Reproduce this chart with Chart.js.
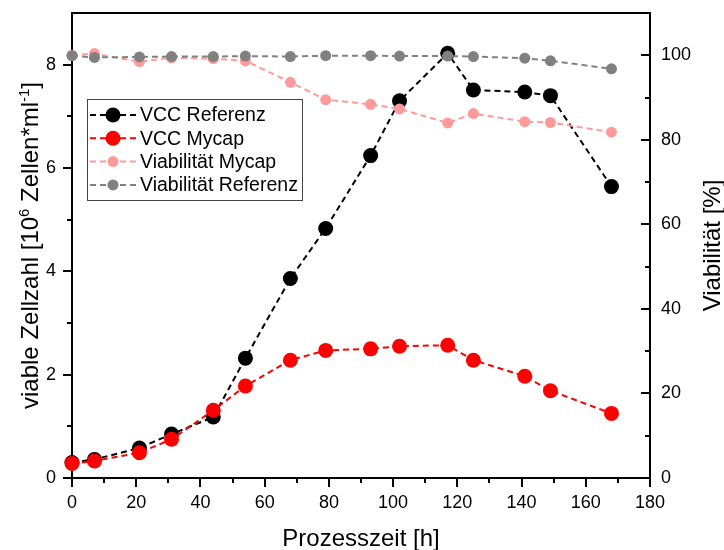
<!DOCTYPE html>
<html>
<head>
<meta charset="utf-8">
<script src="https://cdn.jsdelivr.net/npm/chart.js@4/dist/chart.umd.min.js"></script>
<style>
  html, body { margin: 0; padding: 0; background: #fff; }
  canvas { display: block; }
</style>
</head>
<body>
<canvas id="chart" width="724" height="550"></canvas>
<script>
// Prozesszeit in h
const zeit = [0, 7, 21, 31, 44, 54, 68, 79, 93, 102, 117, 125, 141, 149, 168]
// lebende Zellen, 10^6 Zellen/ml
const vccReferenz = [0.30, 0.36, 0.58, 0.85, 1.18, 2.32, 3.86, 4.83, 6.24, 7.30, 8.22, 7.51, 7.47, 7.40, 5.64]
const vccMycap = [0.28, 0.33, 0.49, 0.75, 1.31, 1.78, 2.28, 2.47, 2.50, 2.55, 2.57, 2.28, 1.97, 1.69, 1.25]
// Viabilität in %
const viabMycap = [100.0, 100.4, 98.5, 99.4, 99.2, 98.7, 93.6, 89.5, 88.4, 87.3, 84.0, 86.2, 84.3, 84.1, 81.8]
const viabReferenz = [99.9, 99.5, 99.6, 99.7, 99.7, 99.8, 99.7, 99.9, 99.9, 99.8, 99.8, 99.7, 99.3, 98.7, 96.8]

const xMinor = [10, 30, 50, 70, 90, 110, 130, 150, 170]
const yMinor = [1, 3, 5, 7]
const y1Major = [0, 20, 40, 60, 80, 100]
const y1Minor = [10, 30, 50, 70, 90]

const FONT = "'Liberation Sans', Arial, sans-serif"
Chart.defaults.font.family = FONT
Chart.defaults.color = '#000'

const points = vals => zeit.map((t, i) => ({ x: t, y: vals[i] }))

const series = [
    { label: 'VCC Referenz', data: vccReferenz, color: '#000000', r: 7.5, axis: 'y', order: 3 },
    { label: 'VCC Mycap', data: vccMycap, color: '#ff0000', r: 7.5, axis: 'y', order: 2 },
    { label: 'Viabilität Mycap', data: viabMycap, color: '#ff9a9a', r: 5.5, axis: 'y1', order: 1 },
    { label: 'Viabilität Referenz', data: viabReferenz, color: '#808080', r: 5.5, axis: 'y1', order: 0 }
]

// frame top line, minor ticks and the inward ticks of the right axis
const axisExtras = {
    id: 'axisExtras',
    afterDatasetsDraw(chart) {
        const ctx = chart.ctx, a = chart.chartArea
        const sx = chart.scales.x, sy = chart.scales.y, sy1 = chart.scales.y1
        ctx.save()
        ctx.strokeStyle = '#000'
        ctx.lineWidth = 2
        ctx.beginPath()
        ctx.moveTo(a.left - 1, a.top)
        ctx.lineTo(a.right + 1, a.top)
        xMinor.forEach(v => {
            const p = Math.round(sx.getPixelForValue(v))
            ctx.moveTo(p, a.bottom); ctx.lineTo(p, a.bottom + 5)
        })
        yMinor.forEach(v => {
            const p = Math.round(sy.getPixelForValue(v))
            ctx.moveTo(a.left, p); ctx.lineTo(a.left - 5, p)
        })
        y1Major.forEach(v => {
            const p = Math.round(sy1.getPixelForValue(v))
            ctx.moveTo(a.right, p); ctx.lineTo(a.right - 9, p)
        })
        y1Minor.forEach(v => {
            const p = Math.round(sy1.getPixelForValue(v))
            ctx.moveTo(a.right, p); ctx.lineTo(a.right - 5, p)
        })
        ctx.stroke()
        ctx.restore()
    }
}

// draws text runs, superscripts smaller and raised
function drawRuns(ctx, runs, size) {
    let w = 0
    runs.forEach(r => {
        ctx.font = (r.sup ? size * 0.62 : size) + 'px ' + FONT
        r.w = ctx.measureText(r.t).width
        w += r.w
    })
    let x = -w / 2
    runs.forEach(r => {
        ctx.font = (r.sup ? size * 0.62 : size) + 'px ' + FONT
        ctx.fillText(r.t, x, r.sup ? -size * 0.38 : 0)
        x += r.w
    })
}

const titles = {
    id: 'titles',
    afterDraw(chart) {
        const ctx = chart.ctx, a = chart.chartArea
        const cy = (a.top + a.bottom) / 2
        ctx.save()
        ctx.fillStyle = '#000'
        ctx.textBaseline = 'alphabetic'
        ctx.textAlign = 'left'

        ctx.save()
        ctx.translate((a.left + a.right) / 2, 546)
        drawRuns(ctx, [{ t: 'Prozesszeit [h]' }], 24)
        ctx.restore()

        ctx.save()
        ctx.translate(38, cy)
        ctx.rotate(-Math.PI / 2)
        drawRuns(ctx, [
            { t: 'viable Zellzahl [10' }, { t: '6', sup: true },
            { t: ' Zellen*ml' }, { t: '-1', sup: true }, { t: ']' }
        ], 24)
        ctx.restore()

        ctx.save()
        ctx.translate(720, cy)
        ctx.rotate(-Math.PI / 2)
        drawRuns(ctx, [{ t: 'Viabilität [%]' }], 24)
        ctx.restore()
        ctx.restore()
    }
}

// boxed legend with dashed line and marker per entry
const boxLegend = {
    id: 'boxLegend',
    afterDraw(chart) {
        const ctx = chart.ctx
        const box = { x: 87.5, y: 99.5, w: 215, h: 101 }
        ctx.save()
        ctx.fillStyle = '#fff'
        ctx.fillRect(box.x, box.y, box.w, box.h)
        ctx.strokeStyle = '#444'
        ctx.lineWidth = 1
        ctx.strokeRect(box.x, box.y, box.w, box.h)
        ctx.font = '19.5px ' + FONT
        ctx.textBaseline = 'middle'
        series.forEach((s, i) => {
            const y = 115 + i * 23.3
            ctx.strokeStyle = s.color
            ctx.lineWidth = 2
            ctx.setLineDash([6, 4])
            ctx.beginPath()
            ctx.moveTo(90, y); ctx.lineTo(136, y)
            ctx.stroke()
            ctx.setLineDash([])
            ctx.fillStyle = s.color
            ctx.beginPath()
            ctx.arc(113, y, s.r, 0, Math.PI * 2)
            ctx.fill()
            ctx.fillStyle = '#000'
            ctx.fillText(s.label, 140, y + 1)
        })
        ctx.restore()
    }
}

const gridTicks = { drawOnChartArea: false, drawTicks: true, tickLength: 9, color: '#000', lineWidth: 2 }

// fixed axis sizes so the plot area sits at 72..650 x 13..478
function fixVertical(width) {
    return scale => {
        scale.width = width
        scale.paddingTop = 0
        scale.paddingBottom = 0
    }
}

new Chart(document.getElementById('chart'), {
    type: 'line',
    data: {
        datasets: series.map(s => ({
            label: s.label,
            data: points(s.data),
            yAxisID: s.axis,
            order: s.order,
            borderColor: s.color,
            backgroundColor: s.color,
            pointBackgroundColor: s.color,
            borderWidth: 2,
            borderDash: [6, 4],
            pointRadius: s.r,
            pointBorderWidth: 0,
            tension: 0,
            clip: false
        }))
    },
    options: {
        responsive: false,
        animation: false,
        layout: { padding: { top: 13 } },
        plugins: { legend: { display: false }, tooltip: { enabled: false } },
        scales: {
            x: {
                type: 'linear', min: 0, max: 180,
                ticks: { stepSize: 20, font: { size: 18 }, padding: 5, maxRotation: 0 },
                grid: gridTicks,
                border: { color: '#000', width: 2 },
                afterFit(scale) {
                    scale.height = 72
                    scale.paddingLeft = 0
                    scale.paddingRight = 0
                }
            },
            y: {
                position: 'left', min: 0, max: 9,
                ticks: { stepSize: 2, includeBounds: false, font: { size: 18 }, padding: 7 },
                grid: gridTicks,
                border: { color: '#000', width: 2 },
                afterFit: fixVertical(72)
            },
            y1: {
                position: 'right', min: 0, max: 110,
                ticks: { stepSize: 20, includeBounds: false, font: { size: 18 }, padding: 11 },
                grid: { drawOnChartArea: false, drawTicks: false },
                border: { color: '#000', width: 2 },
                afterFit: fixVertical(74)
            }
        }
    },
    plugins: [axisExtras, titles, boxLegend]
})
</script>
</body>
</html>
